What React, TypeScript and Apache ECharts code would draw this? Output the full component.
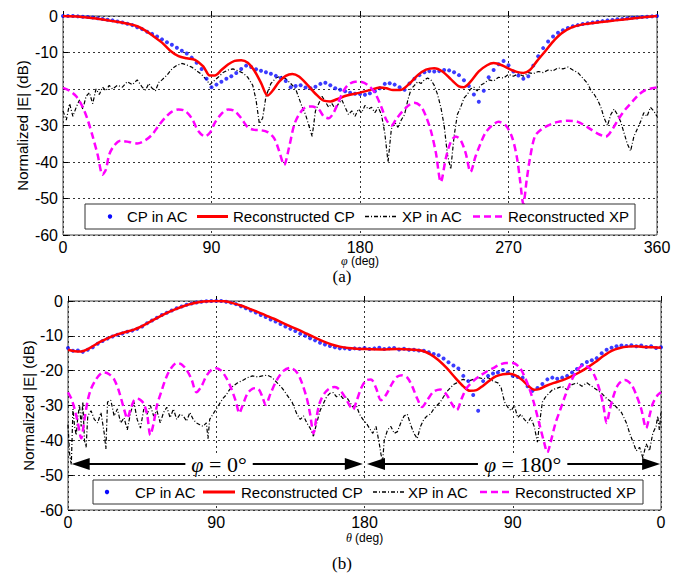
import React, { useEffect, useRef } from "react";
import * as echarts from "echarts";

// ---------- data ----------
const MEAS_STEP = 3; // angular step (deg) of the measured CP samples

const legendNames = ["CP in AC", "Reconstructed CP", "XP in AC", "Reconstructed XP"];
const topXTickLabels = ["0", "90", "180", "270", "360"];
const botXTickLabels = ["0", "90", "180", "90", "0"];

// (a) measured CP, every 3 deg from 0 to 360
const topCpMeasured = [
  0, 0, 0, -0.1, -0.2, -0.3, -0.4, -0.6, -0.8, -1,
  -1.2, -1.5, -1.8, -2.1, -2.5, -3.1, -3.6, -4.3, -4.9, -5.6,
  -6.4, -7.2, -7.9, -8.7, -9.5, -10.3, -11.4, -12.8, -14.5, -17.2,
  -19.5, -18.8, -18, -17.2, -16.5, -15.6, -14.5, -13.6, -14, -14.6,
  -15, -15.4, -15.8, -16.4, -17, -17.8, -19.5, -19.2, -19, -19.6,
  -19.8, -19.4, -18.6, -18.3, -19, -19.8, -20.2, -20.6, -21, -21.3,
  -21.4, -21.6, -21.2, -20.6, -19.8, -18.6, -18.4, -18.8, -19.5, -20.2,
  -18.5, -17.2, -16.2, -15.4, -15.1, -15.2, -15.1, -14.8, -14.9, -15.4,
  -16.2, -17.6, -19.2, -21.5, -23.5, -20.5, -16.8, -14.8, -13.2, -12.3,
  -13.5, -15.2, -16.3, -17.2, -16.5, -13.6, -11, -8.8, -7, -5.6,
  -4.6, -3.9, -3.3, -2.8, -2.5, -2.2, -2, -1.8, -1.6, -1.4,
  -1.2, -1.1, -0.9, -0.8, -0.6, -0.5, -0.4, -0.3, -0.2, -0.1,
  0,
];

const topCpReconstructed: number[][] = [
  [0, 0], [10, -0.2], [20, -0.7], [30, -1.4], [40, -2.2], [45, -2.8], [50, -4], [55, -5.6],
  [60, -7.3], [65, -9.5], [70, -11], [75, -11.6], [80, -12], [85, -13.8], [89, -16.3],
  [92, -16.3], [96, -14.8], [100, -13.3], [104, -12.3], [108, -12.1], [112, -12.8],
  [116, -15], [120, -18.3], [124, -21.8], [127, -20.5], [131, -18], [135, -16.4],
  [139, -15.9], [143, -16.6], [148, -18.8], [153, -21.3], [158, -23.2], [162, -23.4],
  [166, -22.8], [172, -21.8], [180, -21], [186, -20.3], [192, -19.6], [196, -19.8],
  [200, -20.3], [205, -20.2], [210, -18.5], [215, -16.2], [220, -14.7], [225, -14.3],
  [230, -15.2], [235, -17.3], [240, -19.3], [243, -19.5], [247, -18], [252, -15.2],
  [257, -13.5], [261, -12.9], [266, -13.5], [271, -14.6], [275, -15.3], [279, -15.6],
  [283, -14.8], [287, -12.5], [292, -9.8], [297, -7], [302, -4.8], [308, -3.2],
  [315, -2.3], [325, -1.7], [335, -1.2], [345, -0.7], [355, -0.2], [360, 0],
];

const topXpMeasured: number[][] = [
  [0, -26], [2, -28.5], [4, -24], [6, -27.5], [8, -25], [10, -23], [12, -25.5], [14, -22],
  [16, -21], [18, -24], [20, -20], [22, -21.5], [24, -19.5], [26, -20.5], [28, -19], [30, -20],
  [33, -19], [36, -19.5], [39, -18], [42, -18.8], [45, -17.5], [48, -19.5], [50, -20.3],
  [52, -18.5], [54, -19.8], [56, -20.5], [58, -18.2], [60, -17.5], [63, -16.2], [66, -14.5],
  [69, -13.5], [72, -13], [75, -13.4], [78, -14], [81, -15], [84, -16], [87, -17.5], [89, -18.8],
  [91, -18], [94, -16.8], [97, -15.5], [100, -14.8], [103, -14.5], [106, -15], [109, -15.6],
  [112, -16.8], [115, -19], [117, -23], [119, -29.5], [121, -28], [123, -22], [126, -18.5],
  [129, -17], [132, -16.5], [135, -17.2], [138, -18.5], [141, -20], [143, -22.5], [145, -25],
  [147, -27], [149, -30], [151, -33], [153, -26], [155, -24], [157, -22], [159, -23.5],
  [161, -25], [163, -24], [165, -25.5], [167, -24], [169, -23], [171, -25], [173, -27],
  [175, -26], [177, -27.5], [179, -25.5], [181, -26.5], [183, -24.5], [185, -25.5], [187, -25],
  [189, -26.5], [191, -25], [193, -27], [195, -32], [197, -40], [199, -31], [201, -29],
  [203, -30.5], [205, -28.5], [207, -27], [209, -23], [211, -20], [213, -19], [215, -18],
  [217, -18.5], [219, -17.5], [221, -17], [223, -17.5], [225, -19], [227, -21.5], [229, -25],
  [231, -30], [233, -38], [235, -42], [237, -33], [239, -27], [241, -25], [243, -22.5],
  [245, -21.5], [247, -20], [249, -19.5], [251, -20.5], [253, -19], [255, -18.5], [258, -17.5],
  [261, -17.8], [264, -16.8], [267, -17], [270, -16], [273, -16.5], [276, -15.8], [279, -16.5],
  [282, -15.5], [285, -15.8], [288, -15.2], [291, -15.5], [294, -14.8], [297, -15], [300, -14.2],
  [303, -14.5], [306, -14], [309, -14.8], [312, -15.5], [315, -17], [318, -18.5], [320, -20.5],
  [322, -21.5], [324, -23], [326, -25], [328, -28], [330, -30], [332, -27], [334, -25.5],
  [336, -27], [338, -29], [340, -32], [342, -35], [344, -37], [346, -33], [348, -31], [350, -29],
  [352, -26.5], [354, -27.5], [356, -25], [358, -26], [360, -27.5],
];

const topXpReconstructed: number[][] = [
  [0, -19.7], [4, -20.5], [8, -22], [12, -25], [15, -28.5], [18, -33], [21, -38], [24, -43.5],
  [26, -42], [28, -38], [31, -35.5], [35, -34.2], [40, -34.5], [45, -34.9], [50, -34],
  [54, -32.5], [58, -30], [62, -27.8], [66, -26.2], [70, -25.6], [74, -26], [78, -28],
  [82, -31.5], [86, -33], [89, -32], [92, -29.3], [96, -26.8], [100, -25.6], [104, -26],
  [108, -28], [112, -30.5], [116, -31.2], [120, -31.3], [124, -31.8], [128, -33.5], [131, -37],
  [134, -40.8], [137, -36], [140, -30], [143, -27], [147, -25], [151, -24.8], [155, -25.6],
  [158, -27.5], [161, -28], [164, -26.5], [167, -23.5], [170, -20.5], [173, -18.8], [177, -18],
  [181, -18.1], [185, -19], [189, -21], [193, -25], [196, -28.5], [199, -30], [202, -28.2],
  [206, -26], [210, -24.3], [213, -23.8], [217, -24.8], [220, -27.5], [223, -31.5], [226, -37.5],
  [229, -45.5], [232, -39], [235, -34.5], [238, -33], [241, -34], [244, -37.5], [247, -42.7],
  [250, -38.5], [253, -35], [256, -32], [260, -30], [264, -29], [268, -29.8], [272, -33],
  [275, -38.5], [277, -45], [279, -51.5], [281, -45], [283, -39], [286, -33], [290, -31],
  [295, -29.8], [300, -29], [306, -28.7], [312, -29], [318, -30.5], [324, -32.2], [329, -33],
  [333, -31], [337, -28], [341, -25.5], [345, -23.5], [349, -21.5], [353, -20.3], [357, -19.8],
  [360, -19.6],
];

// (b) measured CP, every 3 deg along the 0..360 cut axis
const botCpMeasured = [
  -13.5, -14.3, -14.2, -14.6, -14, -13.3, -12.3, -11.5, -10.8, -10.2,
  -9.7, -9.3, -8.8, -8.5, -8, -7.3, -6.4, -5.6, -4.8, -4,
  -3.4, -2.7, -2.1, -1.6, -1.1, -0.7, -0.4, -0.2, -0.1, 0,
  0, 0, -0.2, -0.5, -0.9, -1.5, -2.1, -2.7, -3.3, -4,
  -4.6, -5.3, -5.9, -6.6, -7.3, -8, -8.6, -9.4, -10, -10.7,
  -11.3, -12, -12.5, -12.9, -13.3, -13.6, -13.6, -13.8, -13.6, -13.7,
  -13.5, -13.8, -13.6, -13.4, -13.8, -13.6, -13.5, -13.9, -13.7, -14,
  -14, -14.2, -14.3, -14.7, -15.2, -15.6, -16.5, -17.6, -18.5, -19.4,
  -21.5, -23, -27, -31.5, -23, -21.5, -20.8, -20.5, -19.8, -20.5,
  -21.5, -21.8, -22, -24.5, -25.8, -25, -23.8, -22.5, -22, -22.3,
  -22, -21.5, -20.5, -19.5, -18.4, -17.5, -17, -16.4, -15, -14,
  -13.4, -13, -12.8, -12.9, -12.7, -13, -12.8, -13.2, -13, -13.5,
  -13.3,
];

const botCpReconstructed: number[][] = [
  [0, -14], [4, -14.4], [8, -14.5], [12, -13.8], [16, -12.7], [20, -11.6], [25, -10.5],
  [30, -9.6], [35, -8.9], [40, -8.2], [45, -7.2], [50, -5.9], [55, -4.6], [60, -3.4],
  [65, -2.4], [70, -1.5], [75, -0.8], [80, -0.3], [85, -0.05], [90, 0], [95, -0.1],
  [100, -0.6], [105, -1.3], [110, -2.2], [115, -3.1], [120, -4.1], [125, -5.1], [130, -6.2],
  [135, -7.3], [140, -8.3], [145, -9.4], [150, -10.5], [155, -11.6], [160, -12.5],
  [165, -13.1], [170, -13.5], [175, -13.7], [180, -13.8], [190, -13.9], [200, -13.8],
  [210, -14], [215, -14.3], [220, -15.3], [225, -17], [230, -19.3], [235, -22], [240, -24.5],
  [244, -25.8], [248, -25.6], [252, -24.3], [256, -22.8], [260, -21.6], [264, -21],
  [268, -20.9], [272, -21.4], [276, -22.8], [280, -24.6], [283, -25.5], [286, -25.3],
  [290, -24.4], [295, -23.5], [300, -22.8], [305, -21.8], [310, -20.6], [315, -19.2],
  [320, -17.6], [325, -15.8], [330, -14.3], [335, -13.5], [340, -13.1], [345, -13],
  [350, -13.2], [355, -13.3], [360, -13.4],
];

const botXpMeasured: number[][] = [
  [0, -35.5], [1, -44], [2, -47], [3, -31], [4, -36], [5, -38.5], [6, -33], [7, -30], [8, -36],
  [9, -29], [10, -40], [11, -42], [12, -33], [14, -31.5], [16, -34], [18, -35], [20, -32],
  [22, -38], [23, -42.5], [24, -29], [26, -28.5], [28, -33], [30, -31], [32, -35], [34, -33.5],
  [36, -37], [38, -32], [40, -29], [42, -34], [44, -36.5], [46, -31], [48, -32.5], [50, -30],
  [52, -33], [54, -31.5], [56, -35], [58, -32], [60, -30.5], [62, -33.5], [64, -31], [66, -34],
  [68, -32.5], [70, -33], [72, -34.5], [74, -32], [76, -34], [78, -35], [80, -35.5], [82, -36],
  [84, -35], [85, -39.5], [86, -34], [88, -32.5], [90, -31], [92, -29.5], [94, -28], [96, -27],
  [98, -25.5], [100, -24.5], [103, -23.5], [106, -22.8], [109, -22], [112, -21.5], [115, -21.8],
  [118, -21.5], [121, -21.3], [124, -22], [127, -23.5], [130, -25], [133, -27], [136, -29],
  [139, -32.5], [141, -34], [143, -33], [145, -35], [147, -36.5], [149, -38.8], [151, -35],
  [153, -31.5], [155, -29.5], [157, -27.5], [159, -26.5], [161, -26.3], [163, -27.5],
  [165, -26.8], [167, -28], [169, -27.5], [171, -29], [173, -30.5], [175, -30], [177, -32.5],
  [179, -34], [181, -35], [183, -36.5], [185, -38], [187, -36], [189, -41], [190, -44],
  [191, -46], [192, -40], [194, -37], [196, -36], [198, -38], [200, -37.5], [202, -35],
  [204, -33], [206, -32.5], [208, -35.5], [210, -38], [212, -39.5], [214, -36], [216, -34],
  [218, -33], [220, -32.5], [222, -31], [224, -30], [226, -29], [228, -27.5], [230, -26],
  [232, -25], [234, -24], [236, -23.5], [238, -22.8], [240, -22.5], [243, -23], [246, -22.5],
  [249, -22], [252, -22.3], [255, -22], [258, -23], [261, -23.5], [263, -25], [265, -29],
  [267, -30.5], [269, -31.5], [271, -30], [273, -33.5], [275, -32.5], [277, -34], [279, -35],
  [281, -33.5], [283, -36], [285, -40.5], [286, -36], [288, -29], [290, -27.5], [292, -26.5],
  [294, -25.5], [297, -25], [300, -24.5], [303, -25.5], [306, -24], [309, -23.5], [312, -24.5],
  [315, -23.5], [318, -24.5], [321, -25.5], [324, -26.5], [327, -28], [330, -29], [333, -30.5],
  [336, -32], [339, -35], [341, -38], [343, -40.5], [345, -43], [347, -42], [349, -45],
  [351, -41], [353, -43], [355, -38], [357, -36], [358, -33], [359, -37], [360, -32],
];

const botXpReconstructed: number[][] = [
  [0, -26.2], [2, -28], [4, -31], [6, -35], [8, -39.4], [10, -34], [12, -28.5], [14, -25.2],
  [17, -22.5], [20, -20.8], [22, -20.5], [25, -21], [28, -22.5], [31, -26], [34, -31],
  [36, -33.7], [38, -31], [40, -28.6], [42, -28], [44, -28.4], [46, -29.5], [48, -32.5],
  [50, -38.5], [52, -35], [54, -30], [57, -25.5], [60, -21.5], [63, -19], [66, -17.8],
  [69, -18.2], [72, -19.8], [75, -22.5], [78, -26.2], [81, -24.5], [84, -21.5], [87, -19.8],
  [90, -19.3], [93, -20], [96, -22], [99, -25], [102, -29], [104, -32.2], [106, -30],
  [109, -26.5], [112, -25.2], [114, -25], [116, -25.5], [118, -27.5], [120, -29.8],
  [123, -26.5], [127, -22.5], [131, -20], [135, -19.2], [139, -20.5], [142, -23.5], [145, -28],
  [147, -32.5], [149, -38], [151, -33], [153, -29], [156, -26.3], [159, -25], [162, -24.7],
  [165, -25.5], [168, -27.5], [171, -30], [173, -31.2], [175, -29], [178, -25], [181, -22.8],
  [184, -22.5], [187, -25], [190, -28.5], [193, -27], [197, -23.5], [200, -21.7], [203, -21.3],
  [206, -22], [209, -24.5], [212, -28], [215, -30.4], [218, -28.5], [222, -26], [226, -25.4],
  [230, -27], [233, -29.5], [236, -31.3], [239, -28], [242, -25], [246, -23], [250, -21.5],
  [254, -20.3], [258, -19.3], [262, -18.3], [266, -17.8], [270, -17.8], [274, -19],
  [277, -21.5], [280, -25], [283, -29.5], [286, -35], [289, -40.5], [291, -43.5], [293, -40.5],
  [296, -35], [299, -31], [302, -27], [305, -23.5], [309, -20], [313, -18.4], [317, -19.5],
  [320, -21.8], [323, -26], [325, -30], [327, -35], [329, -31], [331, -27.5], [334, -24],
  [338, -22.7], [342, -24], [345, -27], [348, -31], [351, -36.5], [353, -33], [355, -29.5],
  [358, -27], [360, -26.2],
];

// cut annotations for (b): arrow extents and label position (data coords)
const cutArrows = [
  { from: 7.7, to: 173.5, labelAt: 91.7, text: "{i|φ} = 0°" },
  { from: 187, to: 354, labelAt: 276, text: "{i|φ} = 180°" },
];
const cutArrowLevel = -46.8;

// ---------- styling ----------
const SANS = '"Liberation Sans", Arial, Helvetica, sans-serif';
const SERIF = '"Liberation Serif", "Times New Roman", "DejaVu Serif", serif';
const BLUE = "#0a0aff";
const RED = "#ff0000";
const BLACK = "#000000";
const MAGENTA = "#ff00ff";

const toPairs = (vals: number[], step: number) => vals.map((v, i) => [i * step, v]);

function legendGraphic(box: { x: number; y: number; w: number; h: number }, pos: number[]) {
  const cy = box.y + box.h / 2;
  const [dotX, t1, l2a, l2b, t2, l3a, l3b, t3, l4a, l4b, t4] = pos;
  const txt = (x: number, s: string) => ({
    type: "text",
    x,
    y: cy,
    style: { text: s, fontSize: 15, fontFamily: SANS, fill: "#000", verticalAlign: "middle", align: "left" },
    silent: true,
  });
  return [
    {
      type: "rect",
      shape: { x: box.x, y: box.y, width: box.w, height: box.h },
      style: { fill: "#fff", stroke: "#333", lineWidth: 1 },
      silent: true,
      z: 100,
    },
    { type: "circle", shape: { cx: dotX, cy, r: 2.2 }, style: { fill: BLUE }, silent: true, z: 101 },
    { ...txt(t1, legendNames[0]), z: 101 },
    { type: "line", shape: { x1: l2a, y1: cy, x2: l2b, y2: cy }, style: { stroke: RED, lineWidth: 3 }, silent: true, z: 101 },
    { ...txt(t2, legendNames[1]), z: 101 },
    {
      type: "line",
      shape: { x1: l3a, y1: cy, x2: l3b, y2: cy },
      style: { stroke: BLACK, lineWidth: 1.3, lineDash: [4, 2, 1, 2] },
      silent: true,
      z: 101,
    },
    { ...txt(t3, legendNames[2]), z: 101 },
    {
      type: "line",
      shape: { x1: l4a, y1: cy, x2: l4b, y2: cy },
      style: { stroke: MAGENTA, lineWidth: 2.5, lineDash: [7, 4] },
      silent: true,
      z: 101,
    },
    { ...txt(t4, legendNames[3]), z: 101 },
  ];
}

function buildOption() {
  const axisCommonX = (gridIndex: number, labels: string[], name: string, nameGap: number) => ({
    type: "value",
    gridIndex,
    min: 0,
    max: 360,
    interval: 90,
    axisLine: { show: false },
    axisTick: { show: true, inside: true, length: 5, lineStyle: { color: "#000" } },
    splitLine: { show: true, lineStyle: { color: "#333", width: 1, type: [2, 3] } },
    axisLabel: {
      fontSize: 16,
      color: "#000",
      fontFamily: SANS,
      margin: 4,
      formatter: (_v: number, idx: number) => labels[idx] ?? "",
    },
    name,
    nameLocation: "middle",
    nameGap,
    nameMoveOverlap: false,
    nameTextStyle: {
      fontSize: 12,
      fontFamily: SANS,
      color: "#000",
      rich: { i: { fontSize: 12, fontFamily: SERIF, fontStyle: "italic", color: "#000" } },
    },
  });
  const axisCommonY = (gridIndex: number, nameGap: number) => ({
    type: "value",
    gridIndex,
    min: -60,
    max: 0,
    interval: 10,
    axisLine: { show: false },
    axisTick: { show: true, inside: true, length: 5, lineStyle: { color: "#000" } },
    splitLine: { show: true, lineStyle: { color: "#333", width: 1, type: [2, 3] } },
    axisLabel: { fontSize: 16, color: "#000", fontFamily: SANS, margin: 5 },
    name: "Normalized |E| (dB)",
    nameLocation: "middle",
    nameGap,
    nameMoveOverlap: false,
    nameTextStyle: { fontSize: 15, fontFamily: SANS, color: "#000" },
  });

  const seriesFor = (
    idx: number,
    cpMeas: number[][],
    cpRec: number[][],
    xpMeas: number[][],
    xpRec: number[][],
    extra: any
  ) => [
    {
      name: legendNames[2],
      type: "line",
      xAxisIndex: idx,
      yAxisIndex: idx,
      data: xpMeas,
      symbol: "none",
      showSymbol: false,
      lineStyle: { color: BLACK, width: 1.2, type: [4, 2, 1, 2] },
      z: 2,
      silent: true,
    },
    {
      name: legendNames[0],
      type: "scatter",
      xAxisIndex: idx,
      yAxisIndex: idx,
      data: cpMeas,
      symbol: "circle",
      symbolSize: 4,
      itemStyle: { color: BLUE },
      z: 3,
      silent: true,
    },
    {
      name: legendNames[1],
      type: "line",
      xAxisIndex: idx,
      yAxisIndex: idx,
      data: cpRec,
      symbol: "none",
      showSymbol: false,
      smooth: 0.3,
      lineStyle: { color: RED, width: 2.5 },
      z: 4,
      silent: true,
    },
    {
      name: legendNames[3],
      type: "line",
      xAxisIndex: idx,
      yAxisIndex: idx,
      data: xpRec,
      symbol: "none",
      showSymbol: false,
      smooth: 0.3,
      lineStyle: { color: MAGENTA, width: 2.5, type: [7, 4] },
      z: 5,
      silent: true,
      ...extra,
    },
  ];

  const markers = {
    markLine: {
      silent: true,
      symbol: ["triangle", "triangle"],
      symbolSize: [12, 18],
      lineStyle: { color: "#000", width: 2, type: "solid" },
      label: { show: false },
      emphasis: { disabled: true },
      data: cutArrows.map((a) => [{ coord: [a.from, cutArrowLevel] }, { coord: [a.to, cutArrowLevel] }]),
    },
    markPoint: {
      silent: true,
      z: 20,
      symbol: "rect",
      symbolSize: 1,
      itemStyle: { color: "rgba(0,0,0,0)" },
      label: {
        show: true,
        position: "inside",
        color: "#000",
        fontSize: 22,
        fontFamily: SERIF,
        backgroundColor: "#fff",
        padding: [0, 6],
        rich: { i: { fontSize: 22, fontFamily: SERIF, fontStyle: "italic", color: "#000" } },
      },
      data: cutArrows.map((a) => ({
        coord: [a.labelAt, cutArrowLevel],
        label: { formatter: a.text },
      })),
    },
  };

  return {
    animation: false,
    backgroundColor: "#fff",
    grid: [
      { left: 63, top: 16, width: 594, height: 219, show: true, borderColor: "#444", borderWidth: 1, backgroundColor: "#fff" },
      { left: 68, top: 301, width: 593, height: 209, show: true, borderColor: "#444", borderWidth: 1, backgroundColor: "#fff" },
    ],
    xAxis: [
      axisCommonX(0, topXTickLabels, "{i|φ} (deg)", 20),
      axisCommonX(1, botXTickLabels, "{i|θ} (deg)", 22),
    ],
    yAxis: [axisCommonY(0, 33), axisCommonY(1, 32.5)],
    series: [
      ...seriesFor(0, toPairs(topCpMeasured, MEAS_STEP), topCpReconstructed, topXpMeasured, topXpReconstructed, {}),
      ...seriesFor(1, toPairs(botCpMeasured, MEAS_STEP), botCpReconstructed, botXpMeasured, botXpReconstructed, markers),
    ],
    graphic: [
      ...legendGraphic({ x: 85, y: 204, w: 550, h: 25 }, [110, 127, 197, 228, 233, 365, 397, 402, 473, 505, 508]),
      ...legendGraphic({ x: 93, y: 480, w: 550, h: 24 }, [107, 135, 203, 235, 241, 373, 405, 408, 480, 512, 515]),
      {
        type: "text",
        x: 342,
        y: 276,
        style: { text: "(a)", fontSize: 17, fontFamily: SERIF, fill: "#000", align: "center", verticalAlign: "middle" },
        silent: true,
      },
      {
        type: "text",
        x: 342,
        y: 563,
        style: { text: "(b)", fontSize: 17, fontFamily: SERIF, fill: "#000", align: "center", verticalAlign: "middle" },
        silent: true,
      },
    ],
  };
}

export default function App() {
  const ref = useRef<HTMLDivElement>(null);
  useEffect(() => {
    if (!ref.current) return;
    const chart = echarts.init(ref.current, null, { renderer: "svg" });
    chart.setOption(buildOption() as any);
    return () => chart.dispose();
  }, []);
  return (
    <div
      ref={ref}
      style={{ position: "fixed", left: 0, top: 0, width: 685, height: 576, background: "#fff" }}
    />
  );
}
